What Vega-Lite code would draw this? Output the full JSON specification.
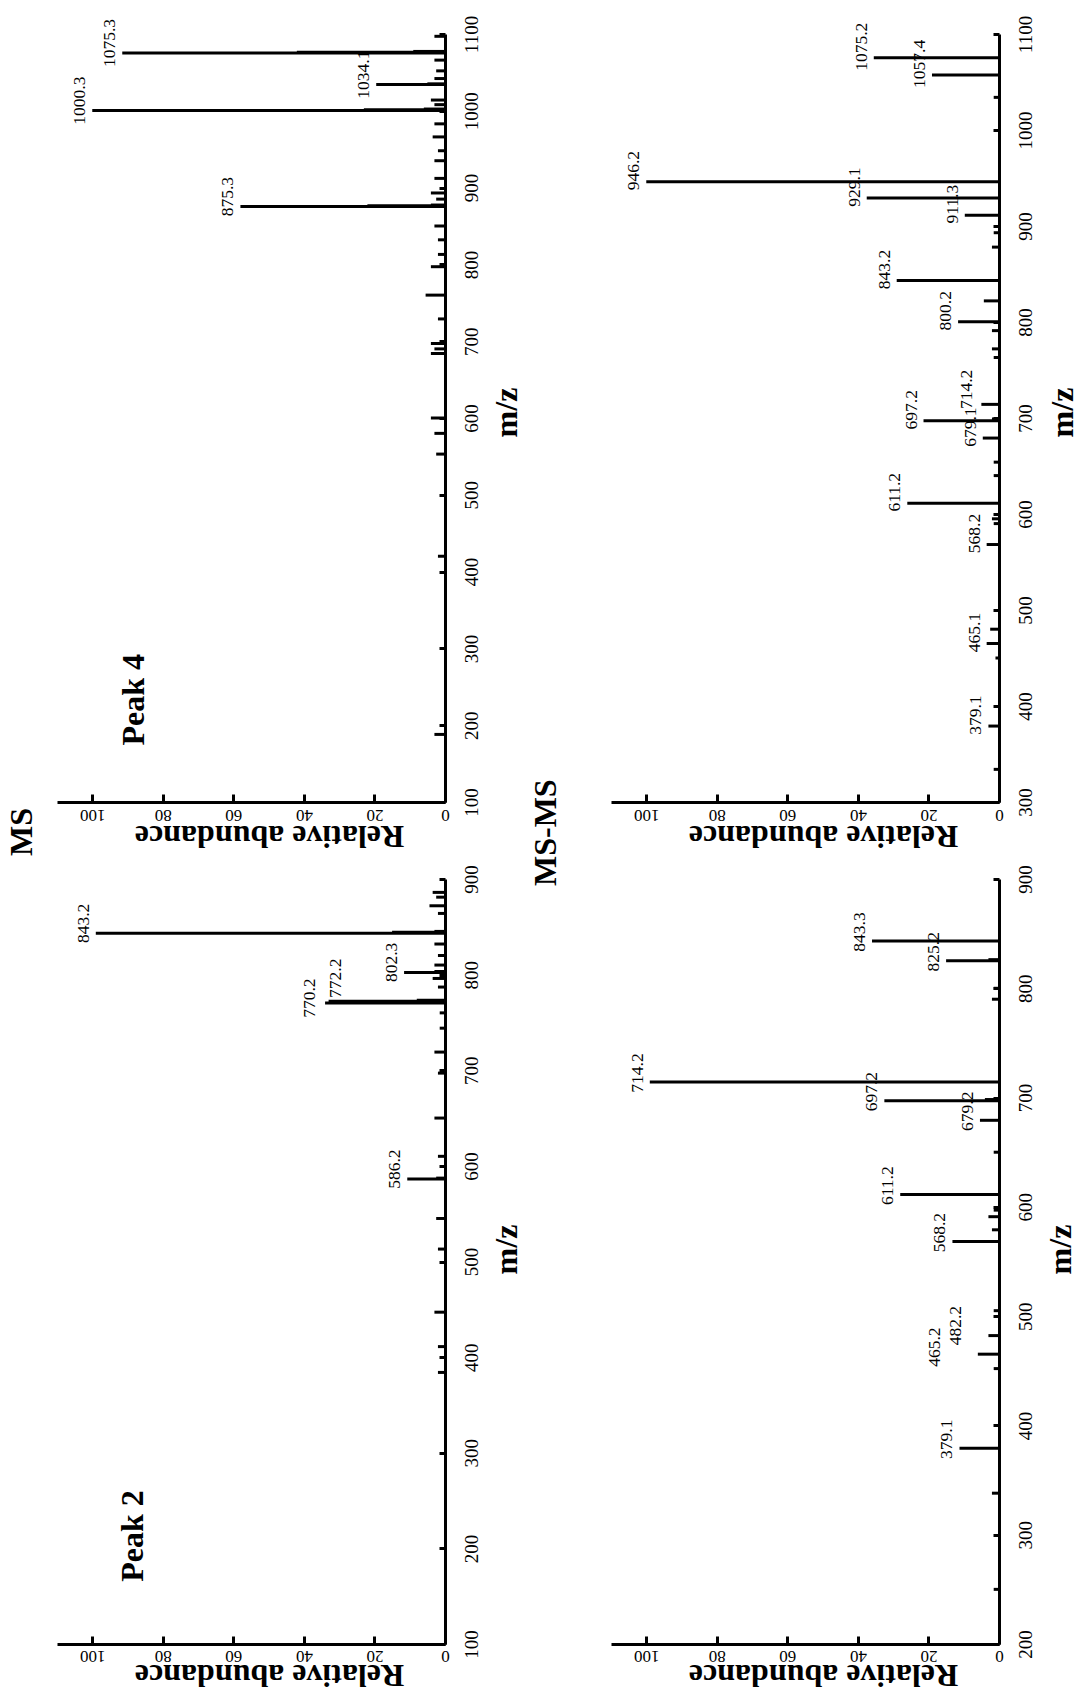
{
  "$schema": "https://vega.github.io/schema/vega-lite/v6.json",
  "padding": {"left": 6, "top": 15, "right": 0, "bottom": 5},
  "background": "white",
  "columns": 2,
  "spacing": {"row": 77, "column": 166},
  "bounds": "flush",
  "config": {
    "view": {"stroke": null},
    "font": "Liberation Serif",
    "axis": {"domainColor": "black", "domainWidth": 3, "tickColor": "black", "tickWidth": 3, "grid": false,
      "labelFont": "Liberation Serif", "labelColor": "black", "titleFont": "Liberation Serif", "titleColor": "black",
      "titleFontWeight": "bold", "titleFontSize": 32, "labelFlush": false, "labelOverlap": false},
    "text": {"font": "Liberation Serif", "color": "black"},
    "title": {"font": "Liberation Serif", "fontWeight": "bold", "fontSize": 32, "color": "black"}
  },
  "concat": [
    {
      "width": 388, "height": 768,
      "title": {"text": "MS", "orient": "left", "anchor": "start", "frame": "group", "offset": 18, "dx": -54},
      "data": {"values": [
        {"mz": 1075.3, "ab": 91.5, "label": "1075.3"}, {"mz": 1076.3, "ab": 42}, {"mz": 1077.3, "ab": 9},
        {"mz": 1034.1, "ab": 19.5, "label": "1034.1"}, {"mz": 1035.1, "ab": 5},
        {"mz": 1000.3, "ab": 100, "label": "1000.3"}, {"mz": 1001.3, "ab": 23}, {"mz": 1002.3, "ab": 6},
        {"mz": 875.3, "ab": 58, "label": "875.3"}, {"mz": 876.3, "ab": 22}, {"mz": 877.3, "ab": 4},
        {"mz": 1097, "ab": 3}, {"mz": 1066, "ab": 3}, {"mz": 1052, "ab": 2.5}, {"mz": 1042, "ab": 3},
        {"mz": 1014, "ab": 4}, {"mz": 1008, "ab": 3}, {"mz": 983, "ab": 3}, {"mz": 966, "ab": 3.5},
        {"mz": 948, "ab": 2}, {"mz": 935, "ab": 3}, {"mz": 912, "ab": 3}, {"mz": 893, "ab": 4},
        {"mz": 885, "ab": 2.5}, {"mz": 850, "ab": 3}, {"mz": 832, "ab": 2}, {"mz": 813, "ab": 2},
        {"mz": 797, "ab": 4}, {"mz": 760, "ab": 5.5}, {"mz": 729, "ab": 2}, {"mz": 697, "ab": 4},
        {"mz": 690, "ab": 3}, {"mz": 684, "ab": 4}, {"mz": 600, "ab": 4}, {"mz": 580, "ab": 3},
        {"mz": 553, "ab": 2.5}, {"mz": 420, "ab": 2}, {"mz": 188, "ab": 3}
      ]},
      "encoding": {
        "y": {"field": "mz", "type": "quantitative", "scale": {"domain": [100, 1100], "nice": false, "zero": false},
          "axis": {"orient": "right", "values": [100, 200, 300, 400, 500, 600, 700, 800, 900, 1000, 1100], "format": "d", "tickSize": -6,
            "labelAngle": 270, "labelAlign": "center", "labelBaseline": "top", "labelPadding": 23, "labelFontSize": 19,
            "title": "m/z", "titleAngle": 270, "titleX": 61, "titleY": 378, "titleAlign": "center", "titleBaseline": "middle"}},
        "x": {"field": "ab", "type": "quantitative", "scale": {"domain": [0, 110], "reverse": true, "nice": false},
          "axis": {"orient": "bottom", "values": [0, 20, 40, 60, 80, 100], "tickSize": -8, "labelAngle": 180,
            "labelAlign": "center", "labelBaseline": "bottom", "labelPadding": 11, "labelFontSize": 17,
            "title": "Relative abundance", "titleAngle": 180, "titleX": 212, "titleY": 33, "titleAlign": "center", "titleBaseline": "middle"}}
      },
      "layer": [
        {"mark": {"type": "rule", "strokeWidth": 3, "color": "black"}, "encoding": {"x2": {"datum": 0}}},
        {"transform": [{"filter": "datum.label"}],
          "mark": {"type": "text", "angle": 270, "align": "center", "baseline": "alphabetic", "dx": 10, "dy": -7, "fontSize": 17.5},
          "encoding": {"text": {"field": "label"}}},
        {"transform": [{"filter": "datum.label == '1000.3'"}],
          "mark": {"type": "text", "text": "Peak 4", "angle": 270, "align": "center", "baseline": "middle", "fontSize": 32, "fontWeight": "bold"},
          "encoding": {"x": {"datum": 88.3, "type": "quantitative"}, "y": {"datum": 233, "type": "quantitative"}}}
      ]
    },
    {
      "width": 388, "height": 768,
      "title": {"text": "MS-MS", "orient": "left", "anchor": "start", "frame": "group", "offset": 48, "dx": -84},
      "data": {"values": [
        {"mz": 1075.2, "ab": 35.5, "label": "1075.2"}, {"mz": 1057.4, "ab": 19, "label": "1057.4"},
        {"mz": 1034, "ab": 1.5}, {"mz": 946.2, "ab": 100, "label": "946.2"}, {"mz": 929.1, "ab": 37.5, "label": "929.1"},
        {"mz": 911.3, "ab": 9.7, "label": "911.3"}, {"mz": 893, "ab": 1.5}, {"mz": 878, "ab": 2},
        {"mz": 843.2, "ab": 29, "label": "843.2"}, {"mz": 822, "ab": 4.3}, {"mz": 800.2, "ab": 11.6, "label": "800.2"},
        {"mz": 791, "ab": 2}, {"mz": 772, "ab": 2}, {"mz": 763, "ab": 1.5},
        {"mz": 714.2, "ab": 5, "label": "714.2"}, {"mz": 699, "ab": 2}, {"mz": 697.2, "ab": 21.4, "label": "697.2"},
        {"mz": 679.1, "ab": 4.6, "label": "679.1"}, {"mz": 654, "ab": 1.5}, {"mz": 640, "ab": 1.5},
        {"mz": 611.2, "ab": 26, "label": "611.2"}, {"mz": 595, "ab": 2}, {"mz": 590, "ab": 1.5},
        {"mz": 568.2, "ab": 3.5, "label": "568.2"}, {"mz": 480, "ab": 2.5}, {"mz": 465.1, "ab": 3.5, "label": "465.1"},
        {"mz": 450, "ab": 1}, {"mz": 379.1, "ab": 3, "label": "379.1"}, {"mz": 334, "ab": 1.5}
      ]},
      "encoding": {
        "y": {"field": "mz", "type": "quantitative", "scale": {"domain": [300, 1100], "nice": false, "zero": false},
          "axis": {"orient": "right", "values": [300, 400, 500, 600, 700, 800, 900, 1000, 1100], "format": "d", "tickSize": -6,
            "labelAngle": 270, "labelAlign": "center", "labelBaseline": "top", "labelPadding": 23, "labelFontSize": 19,
            "title": "m/z", "titleAngle": 270, "titleX": 63, "titleY": 378, "titleAlign": "center", "titleBaseline": "middle"}},
        "x": {"field": "ab", "type": "quantitative", "scale": {"domain": [0, 110], "reverse": true, "nice": false},
          "axis": {"orient": "bottom", "values": [0, 20, 40, 60, 80, 100], "tickSize": -8, "labelAngle": 180,
            "labelAlign": "center", "labelBaseline": "bottom", "labelPadding": 11, "labelFontSize": 17,
            "title": "Relative abundance", "titleAngle": 180, "titleX": 212, "titleY": 33, "titleAlign": "center", "titleBaseline": "middle"}}
      },
      "layer": [
        {"mark": {"type": "rule", "strokeWidth": 3, "color": "black"}, "encoding": {"x2": {"datum": 0}}},
        {"transform": [{"filter": "datum.label && datum.label != '714.2'"}],
          "mark": {"type": "text", "angle": 270, "align": "center", "baseline": "alphabetic", "dx": 11, "dy": -7, "fontSize": 17.5},
          "encoding": {"text": {"field": "label"}}},
        {"transform": [{"filter": "datum.label == '714.2'"}],
          "mark": {"type": "text", "angle": 270, "align": "center", "baseline": "alphabetic", "dx": 15, "dy": -9, "fontSize": 17.5},
          "encoding": {"text": {"field": "label"}}}
      ]
    },
    {
      "width": 388, "height": 765,
      "data": {"values": [
        {"mz": 843.2, "ab": 99, "label": "843.2"}, {"mz": 844.2, "ab": 15}, {"mz": 845.2, "ab": 3},
        {"mz": 802.3, "ab": 11.6, "label": "802.3"}, {"mz": 803.3, "ab": 3},
        {"mz": 770.2, "ab": 34, "label": "770.2"}, {"mz": 771.2, "ab": 20}, {"mz": 772.2, "ab": 33, "label": "772.2"}, {"mz": 773.2, "ab": 8},
        {"mz": 586.2, "ab": 10.7, "label": "586.2"}, {"mz": 587.2, "ab": 2.5},
        {"mz": 886, "ab": 3.5}, {"mz": 881, "ab": 2.5}, {"mz": 872, "ab": 4.4}, {"mz": 864, "ab": 2},
        {"mz": 832, "ab": 3}, {"mz": 820, "ab": 2}, {"mz": 810, "ab": 3}, {"mz": 796, "ab": 3.5},
        {"mz": 787, "ab": 2}, {"mz": 760, "ab": 1.5}, {"mz": 744, "ab": 1.5}, {"mz": 719, "ab": 3},
        {"mz": 697, "ab": 2}, {"mz": 650, "ab": 3}, {"mz": 610, "ab": 2}, {"mz": 545, "ab": 2.5},
        {"mz": 513, "ab": 2}, {"mz": 447, "ab": 3}, {"mz": 411, "ab": 2}, {"mz": 384, "ab": 2}
      ]},
      "encoding": {
        "y": {"field": "mz", "type": "quantitative", "scale": {"domain": [100, 900], "nice": false, "zero": false},
          "axis": {"orient": "right", "values": [100, 200, 300, 400, 500, 600, 700, 800, 900], "format": "d", "tickSize": -6,
            "labelAngle": 270, "labelAlign": "center", "labelBaseline": "top", "labelPadding": 23, "labelFontSize": 19,
            "title": "m/z", "titleAngle": 270, "titleX": 61, "titleY": 370, "titleAlign": "center", "titleBaseline": "middle"}},
        "x": {"field": "ab", "type": "quantitative", "scale": {"domain": [0, 110], "reverse": true, "nice": false},
          "axis": {"orient": "bottom", "values": [0, 20, 40, 60, 80, 100], "tickSize": -8, "labelAngle": 180,
            "labelAlign": "center", "labelBaseline": "bottom", "labelPadding": 10, "labelFontSize": 17,
            "title": "Relative abundance", "titleAngle": 180, "titleX": 212, "titleY": 30, "titleAlign": "center", "titleBaseline": "middle"}}
      },
      "layer": [
        {"mark": {"type": "rule", "strokeWidth": 3, "color": "black"}, "encoding": {"x2": {"datum": 0}}},
        {"transform": [{"filter": "datum.label && datum.label != '770.2' && datum.label != '772.2'"}],
          "mark": {"type": "text", "angle": 270, "align": "center", "baseline": "alphabetic", "dx": 10, "dy": -7, "fontSize": 17.5},
          "encoding": {"text": {"field": "label"}}},
        {"transform": [{"filter": "datum.label == '770.2'"}],
          "mark": {"type": "text", "angle": 270, "align": "center", "baseline": "alphabetic", "dx": 5, "dy": -10, "fontSize": 17.5},
          "encoding": {"text": {"field": "label"}}},
        {"transform": [{"filter": "datum.label == '772.2'"}],
          "mark": {"type": "text", "angle": 270, "align": "center", "baseline": "alphabetic", "dx": 23, "dy": 12, "fontSize": 17.5},
          "encoding": {"text": {"field": "label"}}},
        {"transform": [{"filter": "datum.label == '843.2'"}],
          "mark": {"type": "text", "text": "Peak 2", "angle": 270, "align": "center", "baseline": "middle", "fontSize": 32, "fontWeight": "bold"},
          "encoding": {"x": {"datum": 88.4, "type": "quantitative"}, "y": {"datum": 213, "type": "quantitative"}}}
      ]
    },
    {
      "width": 388, "height": 765,
      "data": {"values": [
        {"mz": 843.3, "ab": 36, "label": "843.3"}, {"mz": 825.2, "ab": 15, "label": "825.2"}, {"mz": 826.2, "ab": 3},
        {"mz": 800, "ab": 1.5}, {"mz": 790, "ab": 2},
        {"mz": 714.2, "ab": 99, "label": "714.2"}, {"mz": 698.2, "ab": 4}, {"mz": 697.2, "ab": 32.5, "label": "697.2"},
        {"mz": 679.2, "ab": 5.4, "label": "679.2"}, {"mz": 650, "ab": 1.5},
        {"mz": 611.2, "ab": 28, "label": "611.2"}, {"mz": 597, "ab": 1.5}, {"mz": 591, "ab": 3}, {"mz": 579, "ab": 2},
        {"mz": 568.2, "ab": 13.2, "label": "568.2"}, {"mz": 505, "ab": 1.5},
        {"mz": 482.2, "ab": 3, "label": "482.2"}, {"mz": 465.2, "ab": 6, "label": "465.2"}, {"mz": 452, "ab": 1.5},
        {"mz": 379.1, "ab": 11.2, "label": "379.1"}, {"mz": 338, "ab": 2}, {"mz": 250, "ab": 1.5}
      ]},
      "encoding": {
        "y": {"field": "mz", "type": "quantitative", "scale": {"domain": [200, 900], "nice": false, "zero": false},
          "axis": {"orient": "right", "values": [200, 300, 400, 500, 600, 700, 800, 900], "format": "d", "tickSize": -6,
            "labelAngle": 270, "labelAlign": "center", "labelBaseline": "top", "labelPadding": 23, "labelFontSize": 19,
            "title": "m/z", "titleAngle": 270, "titleX": 61, "titleY": 370, "titleAlign": "center", "titleBaseline": "middle"}},
        "x": {"field": "ab", "type": "quantitative", "scale": {"domain": [0, 110], "reverse": true, "nice": false},
          "axis": {"orient": "bottom", "values": [0, 20, 40, 60, 80, 100], "tickSize": -8, "labelAngle": 180,
            "labelAlign": "center", "labelBaseline": "bottom", "labelPadding": 10, "labelFontSize": 17,
            "title": "Relative abundance", "titleAngle": 180, "titleX": 212, "titleY": 30, "titleAlign": "center", "titleBaseline": "middle"}}
      },
      "layer": [
        {"mark": {"type": "rule", "strokeWidth": 3, "color": "black"}, "encoding": {"x2": {"datum": 0}}},
        {"transform": [{"filter": "datum.label && datum.label != '465.2' && datum.label != '482.2'"}],
          "mark": {"type": "text", "angle": 270, "align": "center", "baseline": "alphabetic", "dx": 9, "dy": -7, "fontSize": 17.5},
          "encoding": {"text": {"field": "label"}}},
        {"transform": [{"filter": "datum.label == '465.2'"}],
          "mark": {"type": "text", "angle": 270, "align": "center", "baseline": "alphabetic", "dx": 7, "dy": -38, "fontSize": 17.5},
          "encoding": {"text": {"field": "label"}}},
        {"transform": [{"filter": "datum.label == '482.2'"}],
          "mark": {"type": "text", "angle": 270, "align": "center", "baseline": "alphabetic", "dx": 10, "dy": -27, "fontSize": 17.5},
          "encoding": {"text": {"field": "label"}}}
      ]
    }
  ]
}
